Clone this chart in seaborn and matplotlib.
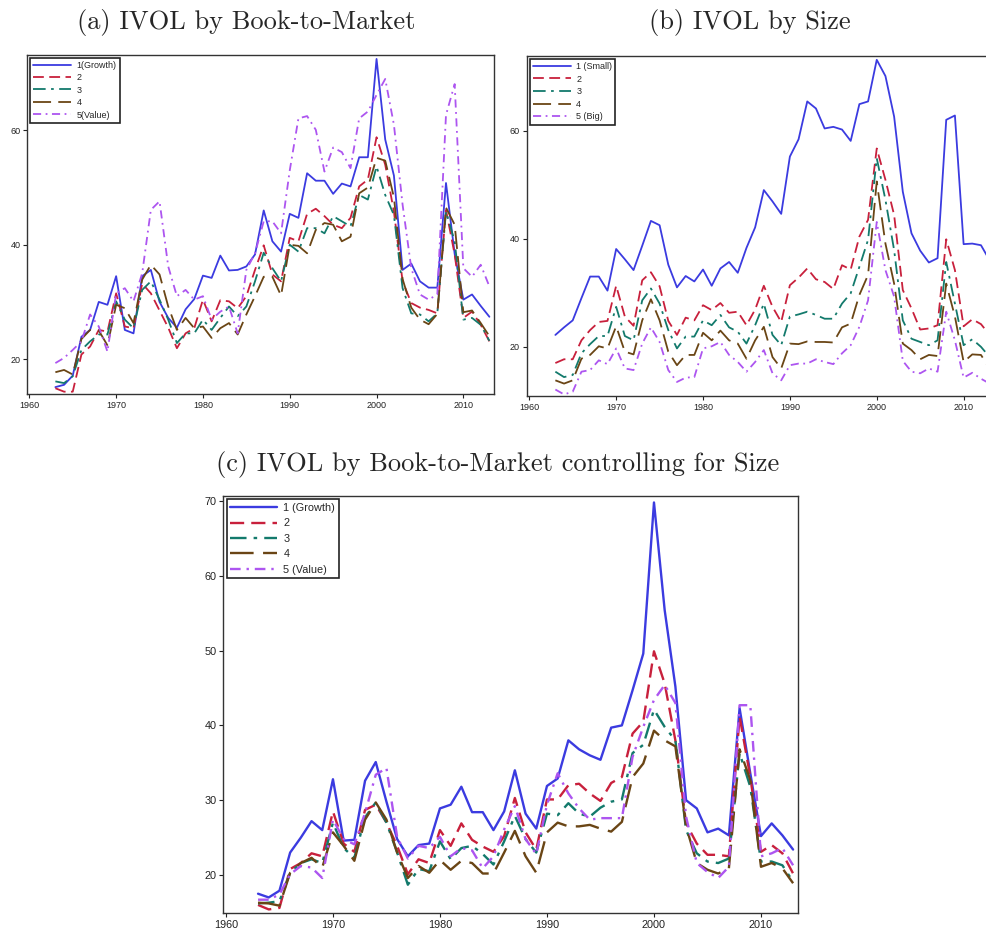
import matplotlib
matplotlib.use('Agg')
import matplotlib.pyplot as plt
import pandas as pd
import seaborn as sns

years = list(range(1963, 2014))

# (a) IVOL by Book-to-Market
a_growth = [15.1, 15.5, 17.1, 23.9, 25.1, 30.0, 29.5, 34.5, 25.1, 24.5,
            34.5, 35.6, 30.0, 27.2, 25.5, 28.7, 30.5, 34.6, 34.2, 38.1,
            35.5, 35.6, 36.2, 38.3, 46.0, 40.6, 38.8, 45.4, 44.7, 52.5,
            51.2, 51.2, 48.9, 50.7, 50.2, 55.3, 55.3, 72.5, 58.4, 52.1,
            35.6, 36.7, 33.6, 32.5, 32.5, 50.8, 38.4, 30.4, 31.3, 29.3, 27.4]
a_q2 = [14.9, 14.3, 14.3, 20.8, 22.2, 25.1, 24.8, 31.5, 25.7, 25.4,
        33.2, 31.5, 28.5, 25.5, 21.9, 24.5, 25.4, 30.4, 26.6, 30.3,
        30.1, 28.9, 31.0, 35.6, 39.9, 34.8, 33.6, 41.2, 40.6, 45.4,
        46.3, 45.0, 43.5, 42.9, 44.7, 50.2, 51.4, 58.8, 54.0, 45.8,
        33.6, 29.8, 29.0, 28.6, 28.0, 46.1, 38.3, 27.2, 28.3, 26.0, 23.1]
a_q3 = [16.1, 15.8, 17.0, 21.6, 23.1, 24.3, 24.3, 30.1, 26.9, 25.4,
        32.1, 33.6, 30.4, 26.9, 22.8, 24.5, 24.5, 26.9, 25.1, 27.2,
        29.2, 27.5, 29.2, 33.6, 38.6, 35.9, 33.6, 40.0, 38.8, 42.9,
        42.9, 42.0, 45.0, 44.1, 43.2, 48.7, 47.9, 53.7, 48.7, 45.2,
        32.4, 28.0, 27.8, 26.6, 28.0, 45.8, 40.6, 26.9, 27.2, 26.0, 23.2]
a_q4 = [17.7, 18.1, 17.3, 23.5, 25.1, 25.0, 22.4, 29.5, 28.9, 26.3,
        33.9, 36.5, 34.8, 29.2, 25.1, 27.2, 25.4, 25.7, 23.7, 25.4,
        26.3, 24.3, 27.8, 31.0, 34.4, 34.4, 31.1, 40.0, 39.8, 38.5,
        42.6, 43.8, 43.5, 40.6, 41.4, 49.0, 50.0, 55.2, 54.7, 48.3,
        34.0, 29.0, 26.9, 26.1, 27.9, 46.5, 43.5, 28.2, 28.5, 26.3, 24.0]
a_value = [19.3, 20.2, 21.6, 23.1, 27.8, 25.7, 21.3, 31.5, 32.4, 30.1,
           35.0, 46.1, 47.6, 36.2, 31.0, 32.1, 30.4, 31.0, 26.9, 28.3,
           29.2, 24.5, 35.6, 38.5, 44.1, 44.1, 42.0, 53.0, 62.1, 62.5,
           60.1, 52.8, 57.0, 56.2, 53.4, 62.1, 63.3, 66.2, 69.0, 61.0,
           47.0, 35.9, 31.3, 30.4, 31.3, 62.7, 68.1, 35.9, 34.4, 36.5, 32.7]

# (b) IVOL by Size
b_small = [22.2, 23.6, 24.9, 29.0, 33.0, 33.0, 30.4, 38.1, 36.2, 34.2,
           38.7, 43.3, 42.5, 35.2, 31.0, 33.1, 32.1, 34.3, 31.3, 34.5,
           35.7, 33.7, 38.3, 42.1, 49.0, 46.9, 44.6, 55.2, 58.4, 65.4,
           64.1, 60.4, 60.7, 60.2, 58.1, 64.9, 65.4, 73.1, 70.1, 62.6,
           48.7, 41.0, 37.8, 35.6, 36.4, 62.0, 62.8, 39.0, 39.1, 38.8, 36.0]
b_q2 = [17.0, 17.7, 17.7, 21.2, 23.1, 24.6, 24.8, 31.3, 25.6, 23.9,
        32.3, 33.8, 31.2, 24.8, 22.2, 25.4, 24.9, 27.7, 26.8, 28.1,
        26.3, 26.5, 24.0, 26.9, 31.3, 27.4, 24.6, 31.4, 32.8, 34.5,
        32.5, 32.0, 30.7, 35.1, 34.3, 40.4, 43.5, 56.7, 50.9, 44.4,
        30.5, 27.1, 23.2, 23.4, 24.0, 39.9, 34.2, 23.8, 25.1, 24.2, 22.2]
b_q3 = [15.4, 14.4, 14.8, 18.8, 20.5, 22.0, 22.0, 27.4, 22.0, 21.2,
        28.6, 30.8, 28.0, 23.1, 19.7, 21.9, 21.9, 24.9, 24.0, 25.9,
        23.6, 22.8, 20.6, 24.0, 28.0, 22.2, 20.3, 25.6, 26.0, 26.5,
        25.9, 25.2, 25.2, 28.0, 29.9, 34.8, 39.8, 54.9, 47.2, 37.9,
        24.9, 21.5, 20.9, 20.3, 21.2, 35.7, 28.0, 20.3, 21.4, 20.0, 18.1]
b_q4 = [13.8, 13.2, 13.8, 17.8, 18.5, 20.1, 19.7, 23.8, 19.1, 18.6,
        24.9, 28.8, 24.9, 19.1, 16.6, 18.5, 18.5, 22.6, 21.2, 23.0,
        21.2, 20.6, 17.8, 21.2, 23.7, 18.1, 16.0, 20.6, 20.5, 21.0,
        20.9, 20.9, 20.8, 23.6, 24.3, 29.6, 33.3, 50.6, 39.1, 31.7,
        20.6, 19.4, 17.7, 18.5, 18.3, 31.7, 25.6, 17.2, 18.6, 18.5, 16.0]
b_big = [12.1, 11.2, 11.7, 15.4, 15.7, 17.5, 16.8, 19.7, 16.0, 15.7,
         20.6, 23.6, 20.9, 15.7, 13.5, 14.3, 14.4, 19.7, 20.1, 20.9,
         18.5, 17.2, 15.4, 17.2, 19.4, 15.1, 13.8, 16.6, 16.9, 16.9,
         17.7, 17.2, 16.8, 18.8, 20.3, 23.7, 28.6, 43.1, 34.2, 29.3,
         17.4, 15.4, 15.1, 16.0, 15.4, 26.5, 21.2, 14.3, 15.2, 14.1, 13.2]

# (c) IVOL by Book-to-Market controlling for Size
c_growth = [17.5, 17.0, 17.9, 23.0, 25.0, 27.2, 26.0, 32.8, 24.6, 24.7,
            32.6, 35.1, 29.8, 24.8, 22.5, 24.0, 24.2, 28.9, 29.4, 31.8,
            28.4, 28.4, 26.0, 28.5, 34.0, 28.2, 26.2, 31.9, 32.9, 38.0,
            36.8, 36.0, 35.4, 39.7, 40.0, 44.7, 49.6, 69.8, 55.4, 45.2,
            30.0, 28.9, 25.7, 26.2, 25.3, 42.3, 33.6, 25.2, 26.9, 25.3, 23.4]
c_q2 = [16.0, 15.4, 15.6, 20.8, 21.6, 22.9, 22.5, 28.5, 24.2, 23.1,
        28.7, 29.4, 27.0, 23.9, 20.1, 22.1, 21.6, 26.0, 23.9, 26.9,
        24.7, 23.8, 23.1, 25.2, 30.3, 25.7, 23.4, 30.1, 30.1, 32.0,
        32.2, 30.9, 29.9, 32.3, 33.1, 38.9, 40.5, 49.9, 45.6, 38.0,
        26.9, 24.2, 22.7, 22.7, 22.5, 41.2, 33.1, 23.1, 24.0, 22.9, 20.2]
c_q3 = [16.2, 16.3, 16.5, 20.3, 21.6, 22.1, 21.6, 27.0, 23.6, 22.3,
        27.7, 29.7, 27.0, 23.0, 18.7, 20.8, 20.5, 24.5, 22.1, 23.6,
        23.9, 22.8, 21.4, 24.5, 27.9, 24.8, 23.0, 28.2, 28.0, 29.6,
        28.2, 27.8, 29.0, 29.8, 30.1, 36.3, 37.4, 42.1, 39.8, 38.0,
        26.0, 22.9, 21.8, 21.6, 22.2, 36.3, 31.8, 21.8, 21.8, 21.3, 19.1]
c_q4 = [16.3, 16.2, 15.9, 20.3, 21.6, 22.3, 21.0, 25.7, 23.9, 21.9,
        27.4, 29.7, 27.4, 23.0, 19.6, 21.2, 20.3, 22.0, 20.7, 21.9,
        21.6, 20.2, 20.2, 23.0, 25.9, 22.5, 20.3, 25.7, 27.0, 26.5,
        26.5, 26.7, 26.2, 25.8, 27.1, 33.1, 34.9, 39.3, 38.0, 37.2,
        26.5, 21.6, 20.7, 20.2, 20.9, 36.8, 32.7, 21.1, 21.6, 20.9, 18.9]
c_value = [16.7, 16.7, 17.4, 20.1, 21.2, 21.0, 19.6, 27.4, 24.8, 24.1,
           28.3, 33.4, 34.3, 25.1, 22.2, 23.9, 23.6, 25.1, 22.5, 23.6,
           23.3, 20.9, 22.5, 26.1, 29.2, 24.8, 22.8, 29.4, 33.6, 30.9,
           28.9, 27.4, 27.6, 27.6, 27.6, 35.8, 39.8, 43.4, 45.4, 43.0,
           27.8, 21.6, 20.4, 19.6, 21.1, 42.7, 42.7, 22.5, 22.9, 23.6, 21.3]

labels_a = ['1(Growth)', '2', '3', '4', '5(Value)']
labels_b = ['1 (Small)', '2', '3', '4', '5 (Big)']
labels_c = ['1 (Growth)', '2', '3', '4', '5 (Value)']

colors = ['#3b3be0', '#c8203c', '#137a6c', '#6a4515', '#ad55f0']
styles = ['-', (0, (6, 3)), (0, (7, 3, 1.5, 3)), (0, (10, 4)), (0, (4.5, 2.5, 1, 2.5))]

sns.set_style('ticks')
plt.rcParams['font.family'] = ['Liberation Sans', 'DejaVu Sans']

fig = plt.figure(figsize=(9.87, 9.34), dpi=100)
ax_a = fig.add_axes([0.0277, 0.5782, 0.4728, 0.3630])
ax_b = fig.add_axes([0.5339, 0.5760, 0.4732, 0.3640])
ax_c = fig.add_axes([0.2262, 0.0228, 0.5820, 0.4462])


def draw_panel(ax, series, labels, lw, fs, ylim, yticks, xlim, lsp, hl):
    for vals, lbl, col, ls in zip(series, labels, colors, styles):
        df = pd.DataFrame({'year': years, 'ivol': vals})
        sns.lineplot(data=df, x='year', y='ivol', ax=ax, color=col,
                     linestyle=ls, linewidth=lw, label=lbl)
    ax.set_xlim(*xlim)
    ax.set_ylim(*ylim)
    ax.set_xticks([1960, 1970, 1980, 1990, 2000, 2010])
    ax.set_yticks(yticks)
    ax.set_xlabel('')
    ax.set_ylabel('')
    ax.tick_params(labelsize=fs, length=3, width=0.8, pad=2, colors='#222222')
    for s in ax.spines.values():
        s.set_color('#333333')
        s.set_linewidth(1.0)
    leg = ax.legend(loc='upper left', fontsize=fs, frameon=True, fancybox=False,
                    framealpha=1, edgecolor='#222222', handlelength=hl,
                    handletextpad=0.6, labelspacing=lsp, borderpad=0.35,
                    borderaxespad=0.3)
    leg.get_frame().set_linewidth(1.2)


draw_panel(ax_a, [a_growth, a_q2, a_q3, a_q4, a_value], labels_a, 1.3, 6.5,
           (13.9, 73.2), [20, 40, 60], (1959.77, 2013.53), 0.38, 4.2)
draw_panel(ax_b, [b_small, b_q2, b_q3, b_q4, b_big], labels_b, 1.3, 6.5,
           (10.9, 73.8), [20, 40, 60], (1959.73, 2013.5), 0.4, 4.2)
draw_panel(ax_c, [c_growth, c_q2, c_q3, c_q4, c_value], labels_c, 1.7, 7.8,
           (14.96, 70.67), [20, 30, 40, 50, 60, 70], (1959.75, 2013.43), 0.5, 4.3)

tfont = dict(family='cmr10', fontsize=19, ha='center', va='center')
fig.text(246 / 987, 1 - 23 / 934, '(a) IVOL by Book-to-Market', **tfont)
fig.text(750 / 987, 1 - 23 / 934, '(b) IVOL by Size', **tfont)
fig.text(498 / 987, 1 - 464 / 934, '(c) IVOL by Book-to-Market controlling for Size', **tfont)

fig.savefig('out.png', dpi=100)
